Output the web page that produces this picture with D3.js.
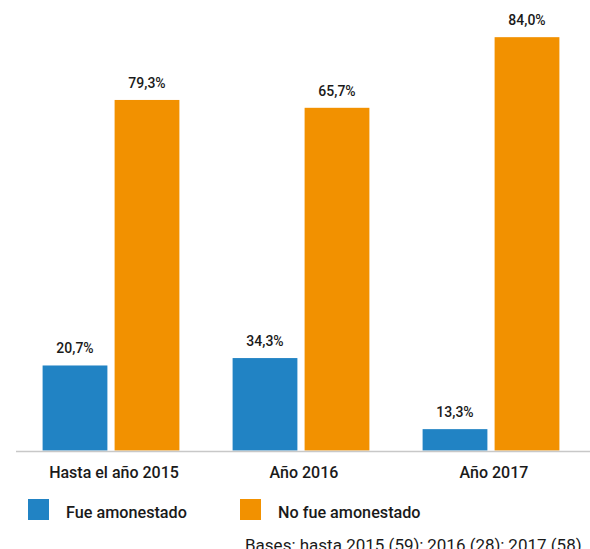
<!DOCTYPE html>
<html>
<head>
<meta charset="utf-8">
<script src="https://cdn.jsdelivr.net/npm/d3@7"></script>
<style>
  html, body { margin: 0; padding: 0; background: #fff; }
  svg { display: block; }
  text { font-family: Roboto, "Noto Sans", sans-serif; fill: #1a1a1a; }
</style>
</head>
<body>
<svg id="chart" width="590" height="549"></svg>
<script>
// ---- data ----
const categories = ["Hasta el año 2015", "Año 2016", "Año 2017"];
const seriesNames = ["Fue amonestado", "No fue amonestado"];
// percentages printed above the bars
const labelFue = [20.7, 34.3, 13.3];
const labelNoFue = [79.3, 65.7, 84.0];
// bar heights as drawn in the reference (share of the plot height, %)
const barFue = [19.5, 21.2, 4.9];
const barNoFue = [80.4, 78.6, 94.8];
const colors = ["#2183c4", "#f29100"];
const footnote = "Bases: hasta 2015 (59); 2016 (28); 2017 (58)";

// ---- layout ----
const svg = d3.select("#chart");
const baseY = 450.5, topY = 14.5;
const y = d3.scaleLinear().domain([0, 100]).range([baseY, topY]);
const x = d3.scaleBand().domain(categories).range([16, 586]).paddingInner(0.28).paddingOuter(0.14);
const xs = d3.scaleBand().domain(seriesNames).range([0, x.bandwidth()]).paddingInner(0.1);
const fmt = v => d3.format(".1f")(v).replace(".", ",") + "%";

const rows = categories.map((c, i) => ({
  cat: c,
  items: [
    {s: seriesNames[0], bar: barFue[i], lab: labelFue[i], color: colors[0]},
    {s: seriesNames[1], bar: barNoFue[i], lab: labelNoFue[i], color: colors[1]}
  ]
}));

const g = svg.selectAll("g.grp").data(rows).join("g")
  .attr("class", "grp")
  .attr("transform", d => `translate(${x(d.cat)},0)`);

g.selectAll("rect").data(d => d.items).join("rect")
  .attr("x", d => xs(d.s))
  .attr("y", d => y(d.bar))
  .attr("width", xs.bandwidth())
  .attr("height", d => baseY - y(d.bar))
  .attr("fill", d => d.color);

g.selectAll("text.val").data(d => d.items).join("text")
  .attr("class", "val")
  .attr("x", d => xs(d.s) + xs.bandwidth() / 2)
  .attr("y", d => y(d.bar) - 12)
  .attr("text-anchor", "middle")
  .style("font-size", "14px")
  .style("font-weight", 500)
  .text(d => fmt(d.lab));

// axis baseline
svg.append("line")
  .attr("x1", 16).attr("x2", 590)
  .attr("y1", 451.5).attr("y2", 451.5)
  .attr("stroke", "#c8c8c8").attr("stroke-width", 1.5);

// category labels
svg.selectAll("text.cat").data(categories).join("text")
  .attr("class", "cat")
  .attr("x", d => x(d) + x.bandwidth() / 2 + 3)
  .attr("y", 478)
  .attr("text-anchor", "middle")
  .style("font-size", "16px")
  .style("font-weight", 500)
  .text(d => d);

// legend
const legX = [28, 240];
const leg = svg.selectAll("g.leg").data(seriesNames).join("g")
  .attr("class", "leg")
  .attr("transform", (d, i) => `translate(${legX[i]},499)`);
leg.append("rect").attr("width", 21).attr("height", 21).attr("fill", (d, i) => colors[i]);
leg.append("text").attr("x", 38).attr("y", 18.5)
  .style("font-size", "16.2px").style("font-weight", 500)
  .text(d => d);

// footnote (cut off at the bottom edge, as in the reference)
svg.append("text").attr("x", 245).attr("y", 551)
  .style("font-size", "17px")
  .text(footnote);
</script>
</body>
</html>
